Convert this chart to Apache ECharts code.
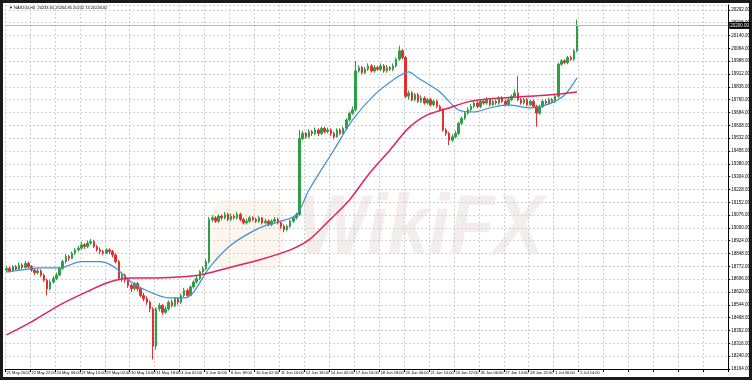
<!DOCTYPE html>
<html><head><meta charset="utf-8">
<script src="https://cdn.jsdelivr.net/npm/echarts@6/dist/echarts.min.js"></script>
<style>html,body{margin:0;padding:0;background:#fff}#c{width:753px;height:382px}</style>
</head><body><div id="c"></div>
<script>
const timeLabels = ["21 May 2024","22 May 22:00","24 May 06:00","27 May 14:00","29 May 02:00","30 May 10:00","31 May 18:00","4 Jun 02:00","5 Jun 10:00","6 Jun 18:00","10 Jun 02:00","11 Jun 10:00","12 Jun 18:00","14 Jun 02:00","17 Jun 10:00","18 Jun 18:00","20 Jun 06:00","21 Jun 14:00","24 Jun 22:00","26 Jun 06:00","27 Jun 14:00","28 Jun 22:00","1 Jul 06:00","2 Jul 14:00"];
const slotCount = 232;
// [open, close, low, high]
const candles = [
[18750,18760,18735,18775],[18760,18745,18735,18770],[18745,18770,18740,18780],[18770,18755,18745,18780],
[18755,18780,18750,18795],[18780,18765,18755,18790],[18765,18790,18760,18805],[18790,18770,18760,18800],
[18770,18750,18740,18780],[18750,18735,18720,18760],[18735,18745,18725,18760],[18745,18720,18710,18755],
[18720,18690,18680,18730],[18690,18640,18600,18700],[18640,18680,18630,18690],[18680,18700,18670,18715],
[18700,18720,18690,18735],[18720,18760,18715,18770],[18760,18800,18750,18810],[18800,18830,18790,18845],
[18830,18820,18805,18840],[18820,18850,18815,18860],[18850,18870,18840,18880],[18870,18880,18860,18895],
[18880,18900,18870,18915],[18900,18890,18875,18910],[18890,18910,18880,18925],[18910,18920,18900,18935],
[18920,18890,18880,18930],[18890,18870,18860,18900],[18870,18860,18845,18885],[18860,18850,18840,18870],
[18850,18870,18845,18880],[18870,18860,18845,18880],[18860,18840,18825,18870],[18840,18800,18790,18850],
[18800,18700,18690,18810],[18700,18720,18680,18735],[18720,18690,18675,18730],[18690,18660,18645,18700],
[18660,18640,18620,18670],[18640,18670,18630,18680],[18670,18640,18625,18680],[18640,18600,18590,18650],
[18600,18580,18565,18615],[18580,18560,18545,18595],[18560,18520,18500,18570],[18520,18300,18220,18530],
[18300,18520,18280,18530],[18520,18540,18505,18555],[18540,18500,18485,18550],[18500,18520,18490,18535],
[18520,18560,18510,18570],[18560,18540,18530,18575],[18540,18580,18530,18590],[18580,18560,18545,18590],
[18560,18600,18550,18610],[18600,18630,18590,18645],[18630,18600,18590,18640],[18600,18650,18595,18660],
[18650,18680,18640,18690],[18680,18700,18670,18715],[18700,18740,18690,18750],[18740,18760,18730,18775],
[18760,18800,18750,18815],[18800,19050,18790,19065],[19050,19060,19035,19075],[19060,19040,19030,19070],
[19040,19070,19030,19080],[19070,19060,19045,19080],[19060,19080,19050,19095],[19080,19050,19040,19090],
[19050,19070,19040,19085],[19070,19060,19050,19080],[19060,19080,19050,19095],[19080,19050,19040,19090],
[19050,19030,19020,19060],[19030,19040,19020,19055],[19040,19060,19030,19070],[19060,19050,19040,19070],
[19050,19040,19030,19060],[19040,19060,19030,19070],[19060,19030,19020,19065],[19030,19040,19020,19055],
[19040,19020,19010,19050],[19020,19040,19010,19050],[19040,19050,19030,19065],[19050,19030,19020,19060],
[19030,19010,18995,19040],[19010,18990,18975,19020],[18990,19010,18980,19020],[19010,19040,19000,19050],
[19040,19060,19030,19070],[19060,19080,19050,19090],[19080,19530,19070,19580],[19530,19560,19520,19575],
[19560,19540,19530,19570],[19540,19570,19530,19585],[19570,19560,19545,19580],[19560,19580,19550,19595],
[19580,19560,19545,19590],[19560,19590,19550,19600],[19590,19570,19560,19600],[19570,19580,19560,19595],
[19580,19560,19545,19590],[19560,19540,19525,19570],[19540,19580,19535,19590],[19580,19560,19550,19590],
[19560,19590,19555,19600],[19590,19640,19580,19650],[19640,19680,19630,19690],[19680,19700,19670,19720],
[19700,19930,19690,19990],[19930,19950,19920,19965],[19950,19920,19910,19960],[19920,19940,19910,19955],
[19940,19960,19930,19975],[19960,19930,19920,19970],[19930,19950,19920,19965],[19950,19940,19930,19960],
[19940,19960,19930,19975],[19960,19930,19920,19970],[19930,19950,19920,19965],[19950,19940,19930,19960],
[19940,19960,19930,19975],[19960,20000,19950,20010],[20000,20050,19990,20080],[20050,20010,20000,20060],
[20010,19780,19770,20020],[19780,19800,19760,19815],[19800,19760,19750,19810],[19760,19790,19750,19800],
[19790,19750,19740,19800],[19750,19770,19740,19785],[19770,19740,19730,19780],[19740,19760,19730,19770],
[19760,19730,19720,19770],[19730,19750,19720,19760],[19750,19720,19710,19760],[19720,19700,19690,19730],
[19700,19580,19570,19710],[19580,19560,19545,19590],[19560,19520,19490,19570],[19520,19540,19510,19555],
[19540,19560,19530,19575],[19560,19620,19550,19630],[19620,19650,19610,19660],[19650,19680,19640,19690],
[19680,19700,19670,19715],[19700,19720,19690,19735],[19720,19740,19710,19750],[19740,19720,19710,19750],
[19720,19750,19710,19760],[19750,19740,19730,19765],[19740,19760,19730,19775],[19760,19730,19720,19770],
[19730,19750,19720,19760],[19750,19740,19730,19760],[19740,19770,19730,19780],[19770,19750,19740,19780],
[19750,19730,19720,19760],[19730,19760,19720,19770],[19760,19780,19750,19790],[19780,19800,19770,19820],
[19800,19760,19750,19900],[19760,19740,19730,19770],[19740,19760,19730,19770],[19760,19730,19720,19770],
[19730,19750,19720,19760],[19750,19720,19710,19760],[19720,19680,19600,19730],[19680,19720,19670,19730],
[19720,19750,19710,19760],[19750,19740,19730,19760],[19740,19760,19730,19770],[19760,19750,19740,19770],
[19750,19780,19740,19790],[19780,19970,19770,19980],[19970,19990,19960,20000],[19990,19980,19970,20000],
[19980,20010,19970,20020],[20010,20000,19990,20020],[20000,20050,19990,20060],[20050,20200,20040,20235]
];
// moving averages read at key bars: [barIndex, value]
const maFast = [[0,18740],[5,18751],[11,18763],[17,18763],[24,18800],[30,18800],[35,18763],[40,18680],[46,18620],[52,18585],[57,18585],[60,18620],[65,18763],[72,18899],[81,18999],[87,19035],[93,19077],[97,19225],[105,19462],[111,19640],[118,19788],[124,19877],[129,19925],[132,19889],[139,19806],[145,19699],[150,19687],[155,19711],[161,19729],[168,19711],[174,19735],[179,19788],[183,19889]];
const maSlow = [[0,18366],[8,18443],[17,18543],[27,18632],[33,18680],[40,18703],[46,18703],[55,18709],[62,18721],[71,18763],[81,18810],[91,18870],[97,18929],[103,19035],[110,19166],[116,19314],[123,19462],[129,19593],[135,19670],[142,19711],[148,19747],[155,19765],[164,19776],[174,19788],[183,19806]];
const yMin = 18164, yMax = 20321, yStep = 76;
const titleText = "\u25BC NAS100,H4  20233.65 20264.85 20232.74 20246.82";

const categories = [];
for (let i = 0; i < slotCount; i++) categories.push(String(i));
const lastClose = candles[candles.length - 1][1];

const chart = echarts.init(document.getElementById('c'), null, {renderer: 'canvas'});
chart.setOption({
  animation: false,
  backgroundColor: '#fff',
  grid: {left: 5, right: 24, top: 5, bottom: 13},
  xAxis: {
    type: 'category', data: categories, boundaryGap: true,
    axisLine: {show: true, lineStyle: {color: '#000', width: 1}},
    axisTick: {show: true, interval: 7, length: 3, lineStyle: {color: '#000'}},
    axisLabel: {interval: 7, fontSize: 4, color: '#000', margin: 2, align: 'left',
      showMinLabel: true, showMaxLabel: false, fontFamily: 'Liberation Sans',
      formatter: (v, idx) => timeLabels[idx / 8] || ''},
    splitLine: {show: true, interval: 7, lineStyle: {color: '#d0d0d0', type: [2, 2], width: 1}}
  },
  yAxis: {
    type: 'value', position: 'right', min: yMin, max: yMax, interval: yStep, scale: true,
    axisLine: {show: true, lineStyle: {color: '#000', width: 1}},
    axisTick: {show: true, length: 2, lineStyle: {color: '#000'}},
    axisLabel: {fontSize: 4.5, color: '#000', margin: 3, showMaxLabel: false, fontFamily: 'Liberation Sans',
      formatter: v => v.toFixed(2)},
    splitLine: {show: true, lineStyle: {color: '#d0d0d0', type: [2, 2], width: 1}}
  },
  series: [
    {type: 'candlestick', data: candles, barWidth: 2,
      itemStyle: {color: '#2f9e44', color0: '#e03131', borderColor: '#2f9e44', borderColor0: '#e03131', borderWidth: 1},
      markLine: {symbol: 'none', silent: true,
        lineStyle: {color: '#b8b8b8', type: 'solid', width: 1},
        label: {position: 'end', formatter: () => lastClose.toFixed(2), fontSize: 4.5, color: '#fff', backgroundColor: '#000', padding: [1, 1], distance: 1},
        data: [{yAxis: lastClose}]}
    },
    {type: 'line', data: maFast, showSymbol: false, symbol: 'none', smooth: 0.3,
      lineStyle: {color: '#3f8fd2', width: 1.2}},
    {type: 'line', data: maSlow, showSymbol: false, symbol: 'none', smooth: 0.3,
      lineStyle: {color: '#e0245e', width: 1.5}}
  ],
  graphic: [
    {type: 'rect', silent: true, z: -1, shape: {x: 212, y: 200, width: 72, height: 70, r: 14},
      style: {fill: 'rgba(240,200,150,0.16)'}},
    {type: 'text', left: 298, top: 188, z: -1, silent: true, scaleX: 0.88,
      style: {text: 'WikiFX', fontSize: 84, fontWeight: 'bold', fontStyle: 'italic', fontFamily: 'Liberation Sans', fill: 'rgba(200,175,170,0.22)'}},
    {type: 'text', left: 9, top: 6, silent: true,
      style: {text: titleText, fontSize: 4, fill: '#000', fontFamily: 'Liberation Sans'}},
    {type: 'rect', silent: true, shape: {x: 1.5, y: 1.5, width: 749, height: 377},
      style: {fill: 'none', stroke: '#1a1a1a', lineWidth: 3}}
  ]
});
</script></body></html>
